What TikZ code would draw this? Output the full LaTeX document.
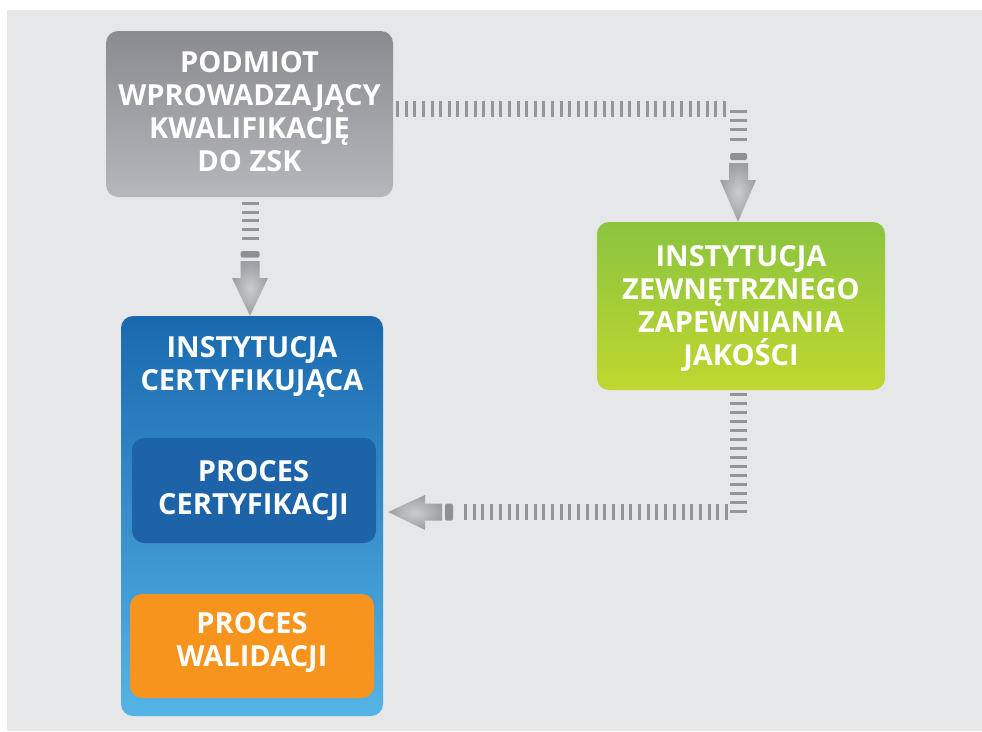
\documentclass[tikz,border=0pt]{standalone}
\usepackage{fontspec}
\setmainfont{Open Sans}
\usetikzlibrary{calc}
\definecolor{bg}{HTML}{E6E7E8}
\definecolor{tick}{HTML}{939598}
\definecolor{blocky}{HTML}{8E9094}
\definecolor{greyT}{HTML}{8A8B8F}
\definecolor{greyB}{HTML}{B6B7BA}
\definecolor{blueT}{HTML}{1A69AF}
\definecolor{blueB}{HTML}{55B4E6}
\definecolor{blueIn}{HTML}{1D63A8}
\definecolor{orangeC}{HTML}{F7941E}
\definecolor{greenT}{HTML}{8AC43F}
\definecolor{greenB}{HTML}{C1D72F}
\definecolor{arrIn}{HTML}{CBCCCE}
\definecolor{arrOut}{HTML}{9C9EA1}
\tikzset{
  box/.style={rounded corners=12pt, inner sep=0pt},
  txt/.style={inner sep=0pt, align=center, text=white,
    font=\bfseries\fontsize{29}{33}\selectfont},
  hticks/.style={draw=tick, line width=16pt, dash pattern=on 3pt off 5.6pt},
  vticks/.style={draw=tick, line width=17pt, dash pattern=on 3pt off 6.4pt},
  blk/.style={fill=blocky, rounded corners=1.5pt},
  arrshade/.style={inner color=arrIn, outer color=arrOut},
}
\begin{document}
\begin{tikzpicture}[x=1pt,y=-1pt]
\useasboundingbox (0,0) rectangle (982,731);
\fill[white] (0,0) rectangle (982,731);
\fill[bg] (7,10) rectangle (982,731);

% boxes
\node[box, top color=greyT, bottom color=greyB, minimum width=287pt, minimum height=166pt] (src) at (249.5,114) {};
\node[box, top color=greenT, bottom color=greenB, minimum width=288pt, minimum height=168pt] (zzj) at (741,306) {};
\node[box, top color=blueT, bottom color=blueB, minimum width=262pt, minimum height=400pt] (ic) at (252,516) {};
\node[box, fill=blueIn, minimum width=244pt, minimum height=105pt] (pc) at (254,490.5) {};
\node[box, fill=orangeC, minimum width=244pt, minimum height=104pt] (pw) at (252,646) {};

% texts
\node[txt] (srctxt) at ($(src.center)+(0,-2.5)$) {PODMIOT\\WPROWADZAJĄCY\\KWALIFIKACJĘ\\DO ZSK};
\node[txt] (zzjtxt) at ($(zzj.center)+(0,3)$) {INSTYTUCJA\\ZEWNĘTRZNEGO\\ZAPEWNIANIA\\JAKOŚCI};
\node[txt] (ictxt) at (252,367) {INSTYTUCJA\\CERTYFIKUJĄCA};
\node[txt] (pctxt) at ($(pc.center)+(-0.5,0.5)$) {PROCES\\CERTYFIKACJI};
\node[txt] (pwtxt) at ($(pw.center)+(0,-3)$) {PROCES\\WALIDACJI};

% connector 1: src -> zzj
\coordinate (a1) at ($(src.east)+(3,-5)$);
\coordinate (a2) at (729,109);
\coordinate (a3) at (738.5,109.5);
\coordinate (a4) at (738.5,142);
\draw[hticks] (a1) -- (a2);
\draw[vticks] (a3) -- (a4);
\fill[blk] (730,153) rectangle (747,160);
\shade[arrshade] (729,163) -- (748,163) -- (748,180) -- (756,180) -- (zzj.north -| 738,0) -- (720,180) -- (729,180) -- cycle;

% connector 2: src -> ic
\coordinate (b1) at ($(src.south)+(1,4.5)$);
\coordinate (b2) at ($(src.south)+(1,44)$);
\draw[vticks, dash pattern=on 3pt off 5.8pt] (b1) -- (b2);
\fill[blk] (240.5,251) rectangle (259.5,257.5);
\shade[arrshade] (240.5,261) -- (259.5,261) -- (259.5,278) -- (268,278) -- (ic.north -| 250,0) -- (232,278) -- (240.5,278) -- cycle;

% connector 3: zzj -> pc
\coordinate (c1) at ($(zzj.south)+(-2.5,3)$);
\coordinate (c2) at (738.5,513);
\coordinate (c3) at (728,512);
\coordinate (c4) at (462,512);
\draw[vticks, dash pattern=on 3pt off 6pt] (c1) -- (c2);
\draw[hticks, dash pattern=on 3pt off 5.7pt] (c3) -- (c4);
\fill[blk] (445,503.5) rectangle (453,520.5);
\shade[arrshade] (442,503.5) -- (442,520.5) -- (425,520.5) -- (425,530) -- ($(ic.east |- 0,512)+(5,0)$) -- (425,495) -- (425,503.5) -- cycle;
\end{tikzpicture}
\end{document}
